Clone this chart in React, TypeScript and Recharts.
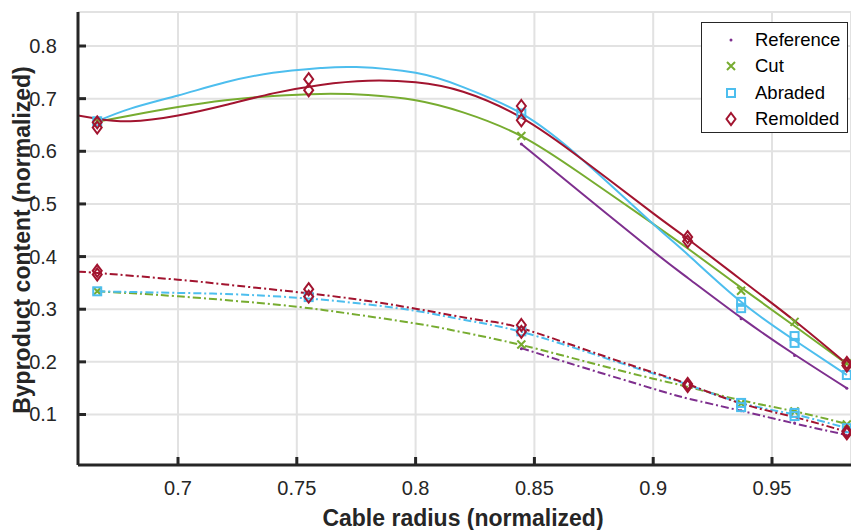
import React from "react";
import {
  ComposedChart,
  Line,
  Scatter,
  XAxis,
  YAxis,
  CartesianGrid,
} from "recharts";

type Pt = { x: number; y: number };

const pts = (pairs: number[][]): Pt[] => pairs.map(([x, y]) => ({ x, y }));

const xTicks = [0.7, 0.75, 0.8, 0.85, 0.9, 0.95];
const yTicks = [0.1, 0.2, 0.3, 0.4, 0.5, 0.6, 0.7, 0.8];

// fitted curves, upper group (solid)
const referenceFitHigh = pts([
  [0.8445, 0.614], [0.87, 0.52], [0.9, 0.41], [0.915, 0.358],
  [0.937, 0.284], [0.9595, 0.214], [0.9815, 0.15],
]);
const cutFitHigh = pts([
  [0.666, 0.656], [0.68, 0.668], [0.7, 0.684], [0.72, 0.697], [0.74, 0.705],
  [0.76, 0.709], [0.78, 0.707], [0.8, 0.697], [0.82, 0.674], [0.8445, 0.629],
  [0.87, 0.556], [0.9, 0.462], [0.915, 0.414], [0.937, 0.341], [0.9595, 0.268],
  [0.9815, 0.196],
]);
const abradedFitHigh = pts([
  [0.666, 0.657], [0.68, 0.681], [0.7, 0.706], [0.72, 0.731], [0.74, 0.749],
  [0.76, 0.758], [0.775, 0.76], [0.8, 0.749], [0.82, 0.722], [0.8445, 0.672],
  [0.87, 0.585], [0.9, 0.462], [0.915, 0.402], [0.937, 0.314], [0.9595, 0.241],
  [0.9815, 0.175],
]);
const remoldedFitHigh = pts([
  [0.6579, 0.668], [0.666, 0.662], [0.68, 0.657], [0.7, 0.668], [0.72, 0.688],
  [0.74, 0.71], [0.76, 0.726], [0.78, 0.734], [0.8, 0.731], [0.82, 0.713],
  [0.8445, 0.664], [0.87, 0.585], [0.9, 0.482], [0.915, 0.432], [0.937, 0.356],
  [0.9595, 0.278], [0.9815, 0.196],
]);

// fitted curves, lower group (dash-dot)
const referenceFitLow = pts([
  [0.8445, 0.226], [0.87, 0.19], [0.9, 0.149], [0.915, 0.13],
  [0.937, 0.107], [0.9595, 0.083], [0.9815, 0.061],
]);
const cutFitLow = pts([
  [0.666, 0.334], [0.7, 0.3245], [0.743, 0.308], [0.77, 0.293], [0.8, 0.273],
  [0.82, 0.256], [0.8445, 0.232], [0.878, 0.193], [0.9, 0.168], [0.915, 0.152],
  [0.937, 0.127], [0.9595, 0.106], [0.9815, 0.082],
]);
const abradedFitLow = pts([
  [0.666, 0.334], [0.7, 0.331], [0.72, 0.329], [0.743, 0.324], [0.77, 0.314],
  [0.8, 0.297], [0.82, 0.28], [0.8445, 0.257], [0.878, 0.21], [0.9, 0.178],
  [0.915, 0.156], [0.937, 0.122], [0.9595, 0.1], [0.9815, 0.074],
]);
const remoldedFitLow = pts([
  [0.6579, 0.371], [0.666, 0.369], [0.7, 0.356], [0.72, 0.347], [0.743, 0.336],
  [0.77, 0.322], [0.8, 0.301], [0.8275, 0.279], [0.8445, 0.264], [0.878, 0.213],
  [0.9, 0.18], [0.915, 0.157], [0.937, 0.121], [0.9595, 0.095], [0.9815, 0.067],
]);

// measured samples
const referencePoints = pts([
  [0.8445, 0.614], [0.937, 0.282], [0.9595, 0.212], [0.9815, 0.15],
  [0.8445, 0.225], [0.937, 0.107], [0.9595, 0.084], [0.9815, 0.06],
]);
const cutPoints = pts([
  [0.666, 0.657], [0.8445, 0.629], [0.937, 0.335], [0.9595, 0.276], [0.9815, 0.197],
  [0.666, 0.334], [0.8445, 0.233], [0.937, 0.121], [0.9595, 0.106], [0.9815, 0.081],
]);
const abradedPoints = pts([
  [0.666, 0.657], [0.8445, 0.672], [0.937, 0.314], [0.937, 0.302],
  [0.9595, 0.249], [0.9595, 0.236], [0.9815, 0.175],
  [0.666, 0.334], [0.755, 0.323], [0.8445, 0.258], [0.937, 0.122], [0.937, 0.114],
  [0.9595, 0.103], [0.9595, 0.097], [0.9815, 0.074],
]);
const remoldedPoints = pts([
  [0.666, 0.655], [0.666, 0.645], [0.755, 0.737], [0.755, 0.716],
  [0.8445, 0.686], [0.8445, 0.659], [0.9145, 0.437], [0.9145, 0.429],
  [0.9815, 0.198], [0.9815, 0.193],
  [0.666, 0.373], [0.666, 0.366], [0.755, 0.338], [0.755, 0.324],
  [0.8445, 0.27], [0.8445, 0.257], [0.9145, 0.158], [0.9145, 0.154],
  [0.9815, 0.068], [0.9815, 0.064],
]);

const COLORS = {
  reference: "#7E2F8E",
  cut: "#77AC30",
  abraded: "#4DBEEE",
  remolded: "#A2142F",
};

const FONT = '"Liberation Sans", Arial, sans-serif';
const INK = "#262626";
const DASH_DOT = "8 3 2 3";

// plot box in page pixels
const PLOT_LEFT = 78;
const PLOT_BOTTOM = 465;

const Dot = ({ cx, cy }: any) => (
  <circle cx={cx} cy={cy} r={1.5} fill={COLORS.reference} />
);
const Cross = ({ cx, cy }: any) => (
  <path
    d={`M${cx - 4},${cy - 4}L${cx + 4},${cy + 4}M${cx - 4},${cy + 4}L${cx + 4},${cy - 4}`}
    stroke={COLORS.cut}
    strokeWidth={2}
    fill="none"
  />
);
const Square = ({ cx, cy }: any) => (
  <rect x={cx - 4} y={cy - 4} width={8} height={8} stroke={COLORS.abraded} strokeWidth={2} fill="none" />
);
const Diamond = ({ cx, cy }: any) => (
  <path
    d={`M${cx},${cy - 6}L${cx + 4.5},${cy}L${cx},${cy + 6}L${cx - 4.5},${cy}Z`}
    stroke={COLORS.remolded}
    strokeWidth={2}
    fill="none"
  />
);

const XTick = ({ x, payload }: any) => (
  <g>
    <line x1={x} x2={x} y1={PLOT_BOTTOM} y2={PLOT_BOTTOM - 8} stroke={INK} strokeWidth={3} />
    <text x={x} y={488} textAnchor="middle" dominantBaseline="central" fontFamily={FONT} fontSize={20} fill={INK}>
      {String(payload.value)}
    </text>
  </g>
);

const YTick = ({ y, payload }: any) => (
  <g>
    <line x1={PLOT_LEFT} x2={PLOT_LEFT + 8} y1={y} y2={y} stroke={INK} strokeWidth={3} />
    <text x={57} y={y} textAnchor="end" dominantBaseline="central" fontFamily={FONT} fontSize={20} fill={INK}>
      {String(payload.value)}
    </text>
  </g>
);

const legendItems = [
  { name: "Reference", Shape: Dot },
  { name: "Cut", Shape: Cross },
  { name: "Abraded", Shape: Square },
  { name: "Remolded", Shape: Diamond },
];

export default function App() {
  const fitLine = (data: Pt[], color: string, key: string, dashed: boolean) => (
    <Line
      key={key}
      data={data}
      dataKey="y"
      type="natural"
      stroke={color}
      strokeWidth={2}
      strokeDasharray={dashed ? DASH_DOT : undefined}
      dot={false}
      activeDot={false}
      isAnimationActive={false}
    />
  );

  return (
    <div style={{ position: "absolute", left: 0, top: 0, width: 851, height: 530, background: "#fff" }}>
      <ComposedChart
        width={851}
        height={530}
        margin={{ top: 12, right: 0, bottom: 0, left: 0 }}
      >
        <CartesianGrid stroke="#e2e2e2" strokeWidth={2} />
        <XAxis
          dataKey="x"
          type="number"
          domain={[0.65791, 0.98325]}
          allowDataOverflow
          ticks={xTicks}
          interval={0}
          height={65}
          axisLine={{ stroke: INK, strokeWidth: 3 }}
          tickLine={false}
          tick={<XTick />}
        />
        <YAxis
          dataKey="y"
          type="number"
          domain={[0.00407, 0.86459]}
          allowDataOverflow
          ticks={yTicks}
          interval={0}
          width={78}
          axisLine={{ stroke: INK, strokeWidth: 3 }}
          tickLine={false}
          tick={<YTick />}
        />

        {fitLine(referenceFitHigh, COLORS.reference, "rh", false)}
        {fitLine(cutFitHigh, COLORS.cut, "ch", false)}
        {fitLine(abradedFitHigh, COLORS.abraded, "ah", false)}
        {fitLine(remoldedFitHigh, COLORS.remolded, "mh", false)}
        {fitLine(referenceFitLow, COLORS.reference, "rl", true)}
        {fitLine(cutFitLow, COLORS.cut, "cl", true)}
        {fitLine(abradedFitLow, COLORS.abraded, "al", true)}
        {fitLine(remoldedFitLow, COLORS.remolded, "ml", true)}

        <Scatter data={referencePoints} dataKey="y" shape={Dot} isAnimationActive={false} />
        <Scatter data={cutPoints} dataKey="y" shape={Cross} isAnimationActive={false} />
        <Scatter data={abradedPoints} dataKey="y" shape={Square} isAnimationActive={false} />
        <Scatter data={remoldedPoints} dataKey="y" shape={Diamond} isAnimationActive={false} />
      </ComposedChart>

      <div
        style={{
          position: "absolute",
          left: 701,
          top: 22,
          width: 147,
          height: 111,
          boxSizing: "border-box",
          border: `1px solid ${INK}`,
          background: "#fff",
          fontFamily: FONT,
          fontSize: 18.5,
          color: "#000",
        }}
      >
        {legendItems.map(({ name, Shape }, i) => (
          <div
            key={name}
            style={{ position: "absolute", left: 0, top: 4 + i * 26.3, height: 26, display: "flex", alignItems: "center" }}
          >
            <svg width={50} height={26}>
              <Shape cx={29} cy={13} />
            </svg>
            <span style={{ marginLeft: 3 }}>{name}</span>
          </div>
        ))}
      </div>

      <div
        style={{
          position: "absolute",
          left: 263,
          width: 400,
          top: 505,
          lineHeight: "26px",
          textAlign: "center",
          fontFamily: FONT,
          fontWeight: "bold",
          fontSize: 23,
          color: INK,
        }}
      >
        Cable radius (normalized)
      </div>
      <div
        style={{
          position: "absolute",
          left: 22,
          top: 240,
          transform: "translate(-50%, -50%) rotate(-90deg)",
          whiteSpace: "nowrap",
          fontFamily: FONT,
          fontWeight: "bold",
          fontSize: 23,
          color: INK,
        }}
      >
        Byproduct content (normalized)
      </div>
    </div>
  );
}
